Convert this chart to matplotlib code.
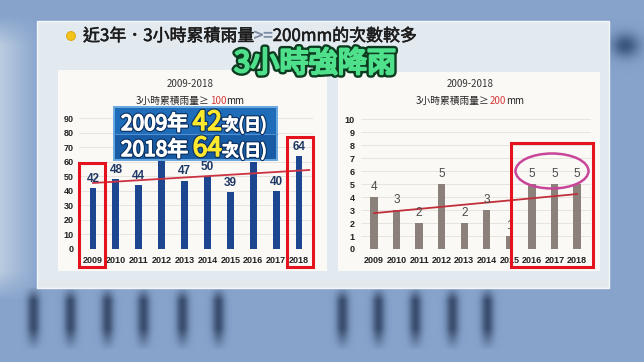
import numpy as np
import matplotlib
matplotlib.use("Agg")
import matplotlib.pyplot as plt
import matplotlib.patches as mpatches
import matplotlib.patheffects as pe

plt.rcParams["font.family"] = ["Noto Sans CJK TC", "DejaVu Sans"]

W, H = 644, 362

years = ["2009", "2010", "2011", "2012", "2013", "2014", "2015", "2016", "2017", "2018"]
count_100mm = [42, 48, 44, 62, 47, 50, 39, 60, 40, 64]
count_200mm = [4, 3, 2, 5, 2, 3, 1, 5, 5, 5]
hidden_labels = ["2012", "2016"]  # covered by the callout box in the slide

fig = plt.figure(figsize=(W / 100, H / 100), dpi=100)


def fx(x):
    return x / W


def fy(y):
    return 1 - y / H


def pixel_axes(zorder):
    a = fig.add_axes([0, 0, 1, 1], zorder=zorder)
    a.set_xlim(0, W)
    a.set_ylim(H, 0)
    a.axis("off")
    a.patch.set_alpha(0)
    return a


def fake_bold(color, shadow=None, lw=0.9):
    fx_list = []
    if shadow:
        fx_list.append(pe.Stroke(linewidth=lw + 1.6, foreground=shadow))
    fx_list += [pe.Stroke(linewidth=lw, foreground=color), pe.Normal()]
    return fx_list


def rich(a, x, y, parts, ha="left", shadow=None, bold=0.0):
    # parts: (text, color, size), laid out left to right on one baseline
    r = fig.canvas.get_renderer()
    texts, widths = [], []
    for s, c, sz in parts:
        eff = fake_bold(c, shadow, bold) if bold else None
        t = a.text(0, y, s, color=c, fontsize=sz, va="baseline", ha="left",
                   path_effects=eff)
        widths.append(t.get_window_extent(renderer=r).width)
        texts.append(t)
    total = sum(widths)
    x0 = x - total / 2 if ha == "center" else x
    for t, w in zip(texts, widths):
        t.set_x(x0)
        x0 += w


# ---- photo-ish background
bg = pixel_axes(0)
yy, xx = np.mgrid[0:H, 0:W]
img = np.ones((H, W, 3)) * np.array([0.53, 0.64, 0.80])
left_light = np.clip((40 - xx) / 40.0, 0, 1) * np.clip((yy - 15) / 30.0, 0, 1) * np.clip((300 - yy) / 30.0, 0, 1)
img += left_light[..., None] * np.array([0.20, 0.16, 0.08])
for sx in [33, 70, 107, 143, 182, 218, 342, 378, 415, 452, 487]:
    prof = (np.exp(-((xx - sx) / 6.5) ** 2) * np.clip((yy - 286) / 14.0, 0, 1)
            * np.clip((350 - yy) / 22.0, 0, 1))
    img -= prof[..., None] * np.array([0.30, 0.33, 0.36])
blob = np.exp(-(((xx - 625) / 14.0) ** 2 + ((yy - 45) / 12.0) ** 2))
img -= blob[..., None] * np.array([0.3, 0.3, 0.3])
bg.imshow(np.clip(img, 0, 1), extent=[0, W, H, 0], aspect="auto", zorder=0)
bg.set_xlim(0, W)
bg.set_ylim(H, 0)

bg.add_patch(mpatches.Rectangle((37, 21), 572, 267, facecolor="#e3eaef", edgecolor="#f4f7f9", lw=1, zorder=1))
bg.add_patch(mpatches.Rectangle((58, 70), 269, 201, facecolor="#fbf9f6", edgecolor="none", zorder=2))
bg.add_patch(mpatches.Rectangle((338, 72), 262, 199, facecolor="#fbf9f6", edgecolor="none", zorder=2))

# heading
bg.add_patch(mpatches.Circle((71, 36), 4.5, facecolor="#f2c318", edgecolor="#d9a20c", lw=0.6, zorder=3))
rich(bg, 83, 41, [("近3年．3小時累積雨量", "#1c1c1c", 12.2),
                  (">=", "#7f8ea5", 12.2),
                  ("200mm的次數較多", "#1c1c1c", 12.2)], bold=0.4)

# panel titles
for cx, thr in [(190, "100"), (470, "200")]:
    bg.text(cx, 84, "2009-2018", fontsize=7, color="#333333", ha="center", va="center")
    rich(bg, cx, 103.5, [("3小時累積雨量≥", "#222222", 7),
                         (thr, "#d23a3a", 7),
                         ("mm", "#222222", 7)], ha="center")

x = np.arange(len(years))
num_font = dict(family="Liberation Sans", fontweight="bold")

# ---- left chart
ax1 = fig.add_axes([fx(79.3), fy(249), (312.7 - 79.3) / W, (249 - 118) / H], zorder=1)
ax1.bar(x, count_100mm, width=0.3, color="#1d4690", zorder=2)
c1 = np.polyfit(x, count_100mm, 1)
xs1 = np.array([0, 9.45])
ax1.plot(xs1, np.polyval(c1, xs1), color="#cc3340", lw=1.3, zorder=3)
for i, v in enumerate(count_100mm):
    if years[i] in hidden_labels:
        continue
    ax1.annotate(str(v), (i, v), xytext=(0, 6.6), textcoords="offset points",
                 ha="center", va="center", fontsize=8.5, color="#1f3864", **num_font)
ax1.set_xlim(-0.6, 9.6)
ax1.set_ylim(0, 90)
ax1.set_yticks(range(0, 91, 10))

# ---- right chart
ax2 = fig.add_axes([fx(360.5), fy(249), (590.5 - 360.5) / W, (249 - 119.3) / H], zorder=1)
ax2.bar(x, count_200mm, width=0.33, color="#8c807b", zorder=2)
c2 = np.polyfit(x, count_200mm, 1)
xs2 = np.array([0, 9])
ax2.plot(xs2, np.polyval(c2, xs2), color="#c0303a", lw=1.3, zorder=3)
for i, v in enumerate(count_200mm):
    ax2.annotate(str(v), (i, v), xytext=(0, 7.5), textcoords="offset points",
                 ha="center", va="center", fontsize=8.5, color="#4a4a4a",
                 family="Liberation Sans")
ax2.set_xlim(-0.6, 9.6)
ax2.set_ylim(0, 10)
ax2.set_yticks(range(0, 11))

for ax in (ax1, ax2):
    ax.patch.set_alpha(0)
    ax.set_xticks(x)
    ax.set_xticklabels(years)
    ax.grid(axis="y", color="#e4e0dc", lw=0.6)
    ax.set_axisbelow(True)
    for s in ax.spines.values():
        s.set_visible(False)
    ax.tick_params(length=0, labelsize=6.5, colors="#222222")
    ax.tick_params(axis="x", pad=5)
    ax.tick_params(axis="y", pad=4)
    for lab in ax.get_xticklabels() + ax.get_yticklabels():
        lab.set_family("Liberation Sans")
        lab.set_fontweight("bold")

# ---- overlay annotations
ov = pixel_axes(5)
red = "#e3121c"
for (x0, y0, x1, y1) in [(79, 163, 105, 267), (287, 137, 313, 267), (511, 143, 593, 267)]:
    ov.add_patch(mpatches.Rectangle((x0, y0), x1 - x0, y1 - y0, facecolor="none", edgecolor=red, lw=2.2))
ov.add_patch(mpatches.Ellipse((552, 171), 73, 35, facecolor="none", edgecolor="#c8459a", lw=1.8))

ov.add_patch(mpatches.Rectangle((114, 107), 163, 27, facecolor="#1f6cb8", edgecolor="none"))
ov.add_patch(mpatches.Rectangle((114, 134), 163, 26, facecolor="#185ca6", edgecolor="none"))
ov.add_patch(mpatches.Rectangle((114, 107), 163, 53, facecolor="none", edgecolor="#6aa8e0", lw=1.4))
ov.plot([114, 277], [134, 134], color="#4f8fd0", lw=0.8)
rich(ov, 121, 130, [("2009年 ", "white", 15), ("42", "#ffe92e", 19),
                    ("次(日)", "white", 12)], shadow="#0b2f5e", bold=1.1)
rich(ov, 121, 156, [("2018年 ", "white", 15), ("64", "#ffe92e", 19),
                    ("次(日)", "white", 12)], shadow="#0b2f5e", bold=1.1)

ov.text(315, 64, "3小時強降雨", fontsize=21, color="#4fe08c",
        ha="center", va="center",
        path_effects=[pe.Stroke(linewidth=5, foreground="#0d3b20"),
                      pe.Stroke(linewidth=1.6, foreground="#4fe08c"),
                      pe.Normal()])

fig.savefig("out.png", dpi=100)
